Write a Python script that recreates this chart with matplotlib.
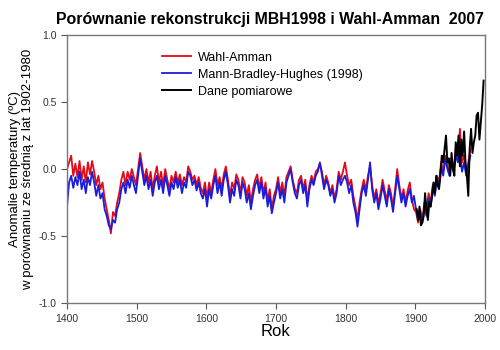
import matplotlib
matplotlib.use('Agg')
import matplotlib.pyplot as plt

plt.rcParams['font.family'] = ['Liberation Sans', 'DejaVu Sans']

# Data ========================================================================
# reconstructions, 3-year steps 1400-1979
rec_years = list(range(1400, 1980, 3))

mbh = [
    # 1400-1448
    -0.28, -0.10, -0.05, -0.14, -0.06, -0.12, -0.02, -0.15, -0.08, -0.18,
    -0.06, -0.12, -0.02, -0.10, -0.20, -0.12, -0.22,
    # 1451-1496
    -0.18, -0.30, -0.35, -0.42, -0.45, -0.38, -0.40, -0.30, -0.25, -0.15,
    -0.10, -0.18, -0.08, -0.14, -0.05, -0.12,
    # 1499-1598
    -0.18, -0.05, 0.08, -0.02, -0.12, -0.05, -0.15, -0.08, -0.20, -0.10,
    -0.05, -0.15, -0.08, -0.18, -0.05, -0.12, -0.20, -0.10, -0.15, -0.06,
    -0.14, -0.08, -0.18, -0.10, -0.14, -0.02, -0.05, -0.12, -0.08, -0.16,
    -0.10, -0.18, -0.22, -0.15,
    # 1601-1697
    -0.28, -0.15, -0.22, -0.12, -0.05, -0.18, -0.10, -0.20, -0.08, -0.02,
    -0.12, -0.25, -0.15, -0.20, -0.08, -0.12, -0.22, -0.10, -0.15, -0.25,
    -0.18, -0.30, -0.20, -0.12, -0.08, -0.18, -0.10, -0.22, -0.14, -0.28,
    -0.20, -0.33, -0.25,
    # 1700-1799
    -0.18, -0.10, -0.22, -0.15, -0.25, -0.10, -0.05, 0.00, -0.10, -0.18,
    -0.22, -0.12, -0.08, -0.18, -0.12, -0.28, -0.15, -0.08, -0.12, -0.05,
    -0.02, 0.05, -0.05, -0.15, -0.08, -0.12, -0.20, -0.15, -0.25, -0.18,
    -0.05, -0.12, -0.08, -0.05,
    # 1802-1898
    -0.10, -0.18, -0.12, -0.25, -0.32, -0.43, -0.30, -0.18, -0.12, -0.20,
    -0.08, 0.05, -0.15, -0.25, -0.18, -0.30, -0.22, -0.12, -0.20, -0.28,
    -0.15, -0.22, -0.32, -0.18, -0.05, -0.15, -0.25, -0.18, -0.28, -0.20,
    -0.15, -0.25, -0.20,
    # 1901-1979
    -0.30, -0.38, -0.32, -0.40, -0.28, -0.35, -0.22, -0.28, -0.15, -0.20,
    -0.08, -0.12, 0.02, -0.05, 0.08, 0.00, -0.05, 0.05, -0.02, 0.10,
    0.05, 0.12, -0.02, 0.05, -0.05, 0.02, 0.10,
]

wahl = [
    # 1400-1448
    0.00, 0.05, 0.10, -0.05, 0.04, -0.06, 0.06, -0.08, 0.02, -0.10,
    0.05, -0.04, 0.06, -0.02, -0.12, -0.05, -0.15,
    # 1451-1496
    -0.10, -0.22, -0.30, -0.38, -0.48, -0.32, -0.35, -0.25, -0.18, -0.08,
    -0.02, -0.12, -0.02, -0.08, 0.00, -0.06,
    # 1499-1598
    -0.12, 0.00, 0.12, 0.02, -0.08, 0.00, -0.10, -0.02, -0.15, -0.05,
    0.02, -0.10, -0.02, -0.12, 0.00, -0.08, -0.15, -0.05, -0.10, -0.02,
    -0.10, -0.04, -0.12, -0.06, -0.10, 0.02, -0.02, -0.08, -0.05, -0.12,
    -0.06, -0.14, -0.18, -0.10,
    # 1601-1697
    -0.22, -0.10, -0.18, -0.08, 0.00, -0.12, -0.06, -0.15, -0.04, 0.02,
    -0.08, -0.20, -0.10, -0.15, -0.04, -0.08, -0.18, -0.06, -0.10, -0.20,
    -0.12, -0.25, -0.15, -0.08, -0.04, -0.14, -0.06, -0.18, -0.10, -0.24,
    -0.15, -0.30, -0.20,
    # 1700-1799
    -0.15, -0.06, -0.18, -0.10, -0.20, -0.06, -0.02, 0.02, -0.08, -0.15,
    -0.18, -0.08, -0.05, -0.15, -0.08, -0.24, -0.12, -0.05, -0.10, -0.02,
    0.00, 0.04, -0.02, -0.12, -0.05, -0.10, -0.18, -0.12, -0.22, -0.15,
    -0.02, -0.08, -0.02, 0.05,
    # 1802-1898
    -0.05, -0.12, -0.08, -0.20, -0.28, -0.38, -0.25, -0.15, -0.08, -0.16,
    -0.05, 0.02, -0.12, -0.22, -0.15, -0.26, -0.18, -0.08, -0.16, -0.24,
    -0.12, -0.18, -0.28, -0.15, 0.00, -0.12, -0.22, -0.15, -0.25, -0.16,
    -0.10, -0.22, -0.30,
    # 1901-1979
    -0.32, -0.40, -0.30, -0.38, -0.25, -0.32, -0.18, -0.25, -0.12, -0.18,
    -0.05, -0.10, 0.05, -0.02, 0.10, 0.02, -0.02, 0.08, 0.00, 0.15,
    0.08, 0.30, 0.05, 0.10, -0.02, 0.05, 0.15,
]

# instrumental record, 2-year steps 1902-1998
obs_years = list(range(1902, 1999, 2))
obs = [-0.30, -0.38, -0.28, -0.42, -0.40, -0.35, -0.18, -0.30, -0.38, -0.25,
       -0.28, -0.20, -0.10, -0.18, -0.05, -0.12, -0.15, -0.05, 0.10, 0.05,
       0.15, 0.25, 0.05, 0.08, -0.05, 0.12, 0.00, -0.05, 0.20, 0.10,
       0.25, 0.02, 0.22, 0.10, 0.28, 0.05, -0.05, -0.20, 0.15, 0.30,
       0.12, 0.20, 0.25, 0.40, 0.42, 0.22, 0.35, 0.48, 0.66]

# Plot ========================================================================
fig = plt.figure(figsize=(5, 3.5), dpi=100)
ax = fig.add_axes([0.134, 0.134, 0.836, 0.766])

ax.plot(rec_years, wahl, color='#e00a18', lw=1.3, label='Wahl-Amman')
ax.plot(rec_years, mbh, color='#1c1cdc', lw=1.3, label='Mann-Bradley-Hughes (1998)')
ax.plot(obs_years, obs, color='black', lw=1.4, label='Dane pomiarowe')

ax.set_xlim(1400, 2000)
ax.set_ylim(-1.0, 1.0)
ax.set_xticks(range(1400, 2001, 100))
ax.set_yticks([-1.0, -0.5, 0.0, 0.5, 1.0])
ax.set_yticklabels(['-1.0', '-0.5', '0.0', '0.5', '1.0'])
ax.tick_params(direction='out', length=4, width=0.8, labelsize=7.5,
               colors='#555555', labelcolor='#333333')
for sp in ax.spines.values():
    sp.set_color('#777777')
    sp.set_linewidth(1.0)

ax.set_xlabel('Rok', fontsize=12, labelpad=0)
ax.set_ylabel('Anomalie temperatury (ºC)\nw porównaniu ze średnią z lat 1902-1980',
              fontsize=9.5, labelpad=3)
fig.text(0.54, 0.945, 'Porównanie rekonstrukcji MBH1998 i Wahl-Amman  2007',
         ha='center', va='center', fontsize=11.4, fontweight='bold')

ax.legend(loc='upper left', bbox_to_anchor=(0.2, 0.98), frameon=False,
          fontsize=9, handlelength=2.3, labelspacing=0.4, handletextpad=0.6)

fig.savefig('out.png', dpi=100)
plt.close()
